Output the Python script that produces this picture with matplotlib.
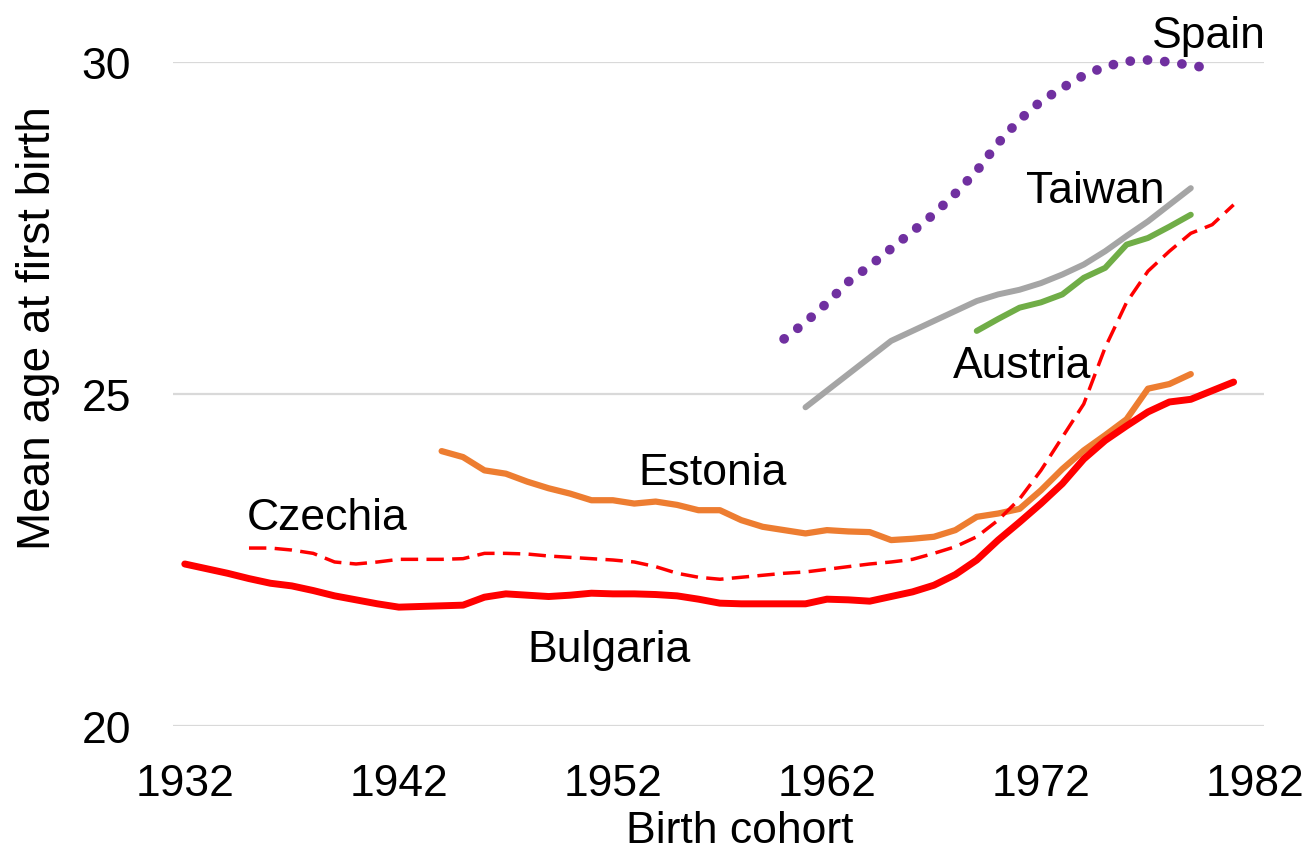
import matplotlib
matplotlib.use("Agg")
import matplotlib.pyplot as plt

plt.rcParams['font.family'] = ['Liberation Sans', 'DejaVu Sans']

# ---------------- data ----------------
bulgaria_years = list(range(1932, 1982))
bulgaria = [22.44, 22.37, 22.30, 22.22, 22.15, 22.11, 22.04, 21.96, 21.90, 21.84,
            21.79, 21.80, 21.81, 21.82, 21.94, 21.99, 21.97, 21.95, 21.97, 22.00,
            21.99, 21.99, 21.98, 21.96, 21.91, 21.85, 21.84, 21.84, 21.84, 21.84,
            21.91, 21.90, 21.88, 21.95, 22.02, 22.12, 22.28, 22.50, 22.80, 23.07,
            23.35, 23.65, 24.02, 24.30, 24.52, 24.73, 24.88, 24.92, 25.05, 25.18]

czechia_years = list(range(1935, 1982))
czechia = [22.68, 22.68, 22.65, 22.60, 22.47, 22.44, 22.47, 22.51, 22.51, 22.51,
           22.52, 22.60, 22.60, 22.59, 22.56, 22.54, 22.52, 22.50, 22.47, 22.40,
           22.30, 22.24, 22.21, 22.24, 22.27, 22.30, 22.32, 22.36, 22.40, 22.44,
           22.47, 22.51, 22.60, 22.70, 22.85, 23.10, 23.42, 23.85, 24.35, 24.85,
           25.70, 26.38, 26.85, 27.15, 27.42, 27.55, 27.85]

estonia_years = list(range(1944, 1980))
estonia = [24.14, 24.05, 23.85, 23.80, 23.68, 23.58, 23.50, 23.40, 23.40, 23.35,
           23.38, 23.33, 23.25, 23.25, 23.10, 23.00, 22.95, 22.90, 22.95, 22.93,
           22.92, 22.80, 22.82, 22.85, 22.95, 23.15, 23.20, 23.27, 23.55, 23.87,
           24.15, 24.38, 24.62, 25.08, 25.15, 25.30]

austria_years = list(range(1969, 1980))
austria = [25.95, 26.13, 26.30, 26.38, 26.50, 26.75, 26.90, 27.25, 27.35, 27.52, 27.70]

taiwan_years = list(range(1961, 1980))
taiwan = [24.80, 25.05, 25.30, 25.55, 25.80, 25.95, 26.10, 26.25, 26.40, 26.50,
          26.57, 26.67, 26.80, 26.95, 27.15, 27.38, 27.60, 27.85, 28.10]

spain_years = list(range(1960, 1981))
spain = [25.83, 26.08, 26.37, 26.69, 26.93, 27.19, 27.45, 27.71, 28.02, 28.36,
         28.78, 29.13, 29.41, 29.61, 29.80, 29.93, 30.01, 30.03, 30.00, 29.95, 29.90]

x_ticks = [1932, 1942, 1952, 1962, 1972, 1982]
y_ticks = [20, 25, 30]

# ---------------- figure ----------------
W, H = 1309, 853
fig = plt.figure(figsize=(W / 100, H / 100), dpi=100)
ax = fig.add_axes([173 / W, 1 - 727 / H, (1264 - 173) / W, (727 - 63) / H])

ax.set_xlim(1931.45, 1982.42)
ax.set_ylim(20, 30)

for yv in y_ticks:
    ax.axhline(yv, color='#D9D9D9', lw=1.6, zorder=0)

ax.plot(taiwan_years, taiwan, color='#A5A5A5', lw=4.3, solid_capstyle='round', zorder=2)
ax.plot(austria_years, austria, color='#70AD47', lw=4.3, solid_capstyle='round', zorder=3)
ax.plot(spain_years, spain, color='#7030A0', lw=7.0, linestyle=(0, (0.01, 1.77)),
        dash_capstyle='round', zorder=3, clip_on=False)
ax.plot(estonia_years, estonia, color='#ED7D31', lw=4.5, solid_capstyle='round', zorder=4)
ax.plot(czechia_years, czechia, color='#FF0000', lw=2.5, linestyle=(0, (5.0, 2.4)),
        zorder=5)
ax.plot(bulgaria_years, bulgaria, color='#FF0000', lw=5.0, solid_capstyle='round', zorder=6)

fs = 32
labels = [("Spain", 1977.2, 30.23), ("Taiwan", 1971.3, 27.89), ("Austria", 1967.9, 25.26),
          ("Estonia", 1953.2, 23.64), ("Czechia", 1934.9, 22.97), ("Bulgaria", 1948.0, 20.98)]
for txt, xx, yy in labels:
    ax.text(xx, yy, txt, fontsize=fs, ha='left', va='baseline', color='black',
            clip_on=False, zorder=7)

ax.set_xticks(x_ticks)
ax.set_xticklabels([str(t) for t in x_ticks])
ax.set_yticks(y_ticks)
ax.set_yticklabels([str(t) for t in y_ticks])
ax.tick_params(axis='both', length=0, labelsize=fs)
ax.tick_params(axis='x', pad=27)
ax.tick_params(axis='y', pad=30)
for s in ax.spines.values():
    s.set_visible(False)

fig.text(38 / W, 1 - 328 / H, "Mean age at first birth", rotation=90, fontsize=33,
         ha='center', va='center')
fig.text(740 / W, 1 - 843 / H, "Birth cohort", fontsize=fs, ha='center', va='baseline')

fig.savefig("out.png", dpi=100, facecolor='white')
